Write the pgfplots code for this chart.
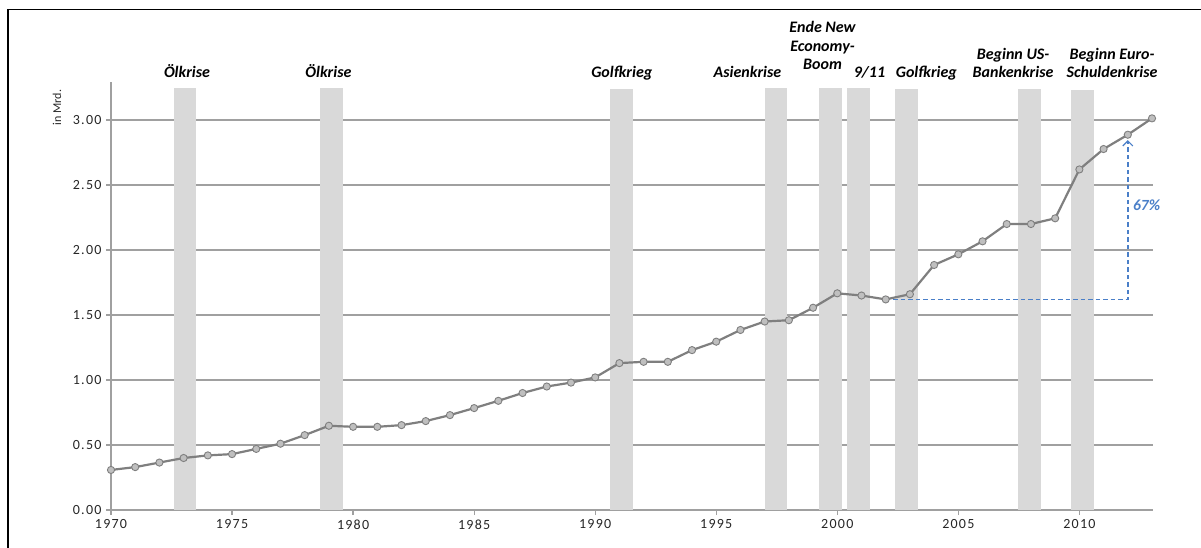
\documentclass[border=0pt]{standalone}
\usepackage{pgfplots}
\pgfplotsset{compat=1.18}
\usepackage{fontspec}
\setmainfont{Carlito}
\newfontfamily\tickfont[LetterSpace=9]{Carlito}
\usetikzlibrary{arrows.meta}
\definecolor{barc}{HTML}{D9D9D9}
\definecolor{linec}{HTML}{7F7F7F}
\definecolor{markc}{HTML}{BFBFBF}
\definecolor{gridc}{HTML}{A0A0A0}
\definecolor{bluec}{HTML}{4A7FC8}
\definecolor{txtc}{HTML}{262626}
\newcommand{\annfont}{\fontsize{16bp}{19bp}\selectfont\bfseries\itshape}
\newcommand{\tkfont}{\tickfont\fontsize{14bp}{16bp}\selectfont}
\begin{document}
\begin{tikzpicture}
\useasboundingbox (0,0) rectangle (1201bp,548bp);
\begin{axis}[
 at={(111bp,38bp)}, anchor=south west, scale only axis,
 width=1041.7bp, height=428.3bp,
 xmin=1970, xmax=2013.03, ymin=0, ymax=3.295,
 axis x line*=bottom, axis y line*=left,
 axis line style={gridc, line width=1.3bp},
 xtick={1970,1975,1980,1985,1990,1995,2000,2005,2010},
 xticklabels={{\tkfont 1970},{\tkfont 1975},{\tkfont 1980},{\tkfont 1985},{\tkfont 1990},{\tkfont 1995},{\tkfont 2000},{\tkfont 2005},{\tkfont 2010}},
 ytick={0,0.5,1,1.5,2,2.5,3},
 yticklabels={{\tkfont 0.00},{\tkfont 0.50},{\tkfont 1.00},{\tkfont 1.50},{\tkfont 2.00},{\tkfont 2.50},{\tkfont 3.00}},
 ymajorgrids, grid style={gridc, line width=1.2bp},
 tick align=outside,
 major tick length=5bp,
 tick style={gridc, line width=1.2bp},
 xticklabel style={yshift=-1bp},
 yticklabel style={xshift=-1bp},
 tick label style={text=txtc},
 clip=false,
]
\addplot[draw=none, fill=barc] coordinates {(1972.6,0) (1972.6,3.246) (1973.5,3.246) (1973.5,0)} -- cycle;
\addplot[draw=none, fill=barc] coordinates {(1978.65,0) (1978.65,3.246) (1979.57,3.246) (1979.57,0)} -- cycle;
\addplot[draw=none, fill=barc] coordinates {(1990.6,0) (1990.6,3.236) (1991.55,3.236) (1991.55,0)} -- cycle;
\addplot[draw=none, fill=barc] coordinates {(1997.0,0) (1997.0,3.246) (1997.93,3.246) (1997.93,0)} -- cycle;
\addplot[draw=none, fill=barc] coordinates {(1999.26,0) (1999.26,3.246) (2000.18,3.246) (2000.18,0)} -- cycle;
\addplot[draw=none, fill=barc] coordinates {(2000.4,0) (2000.4,3.246) (2001.35,3.246) (2001.35,0)} -- cycle;
\addplot[draw=none, fill=barc] coordinates {(2002.37,0) (2002.37,3.238) (2003.33,3.238) (2003.33,0)} -- cycle;
\addplot[draw=none, fill=barc] coordinates {(2007.46,0) (2007.46,3.236) (2008.41,3.236) (2008.41,0)} -- cycle;
\addplot[draw=none, fill=barc] coordinates {(2009.64,0) (2009.64,3.23) (2010.6,3.23) (2010.6,0)} -- cycle;

\addplot[draw=bluec, color=bluec, line width=1.4bp, dash pattern=on 4.5bp off 3bp, -{Straight Barb[length=5bp, width=10bp, line width=1.1bp]}] coordinates {(2002,1.62) (2012,1.62) (2012,2.845)};

\addplot[linec, line width=2.2bp, mark=*, mark size=3.6bp, mark options={fill=markc, draw=linec, line width=0.9bp, solid}] coordinates {
(1970,0.308) (1971,0.33) (1972,0.365) (1973,0.40) (1974,0.42) (1975,0.43)
(1976,0.47) (1977,0.51) (1978,0.576) (1979,0.648) (1980,0.64) (1981,0.64)
(1982,0.653) (1983,0.684) (1984,0.73) (1985,0.784) (1986,0.84) (1987,0.90)
(1988,0.95) (1989,0.98) (1990,1.02) (1991,1.13) (1992,1.14) (1993,1.14)
(1994,1.23) (1995,1.295) (1996,1.385) (1997,1.45) (1998,1.46) (1999,1.556)
(2000,1.667) (2001,1.65) (2002,1.62) (2003,1.66) (2004,1.885) (2005,1.967)
(2006,2.067) (2007,2.20) (2008,2.20) (2009,2.244) (2010,2.62) (2011,2.777)
(2012,2.887) (2013,3.013)};

\node[anchor=base, font=\annfont] at (axis cs:1973.14,3.327) {Ölkrise};
\node[anchor=base, font=\annfont] at (axis cs:1978.98,3.327) {Ölkrise};
\node[anchor=base, font=\annfont] at (axis cs:1991.1,3.327) {Golfkrieg};
\node[anchor=base, font=\annfont] at (axis cs:1996.29,3.327) {Asienkrise};
\node[anchor=base, font=\annfont] at (axis cs:1999.39,3.675) {Ende New};
\node[anchor=base, font=\annfont] at (axis cs:1999.39,3.525) {Economy-};
\node[anchor=base, font=\annfont] at (axis cs:1999.39,3.385) {Boom};
\node[anchor=base, font=\annfont] at (axis cs:2001.33,3.327) {9/11};
\node[anchor=base, font=\annfont] at (axis cs:2003.68,3.327) {Golfkrieg};
\node[anchor=base, font=\annfont] at (axis cs:2007.26,3.469) {Beginn US-};
\node[anchor=base, font=\annfont] at (axis cs:2007.26,3.327) {Bankenkrise};
\node[anchor=base, font=\annfont] at (axis cs:2011.35,3.469) {Beginn Euro-};
\node[anchor=base, font=\annfont] at (axis cs:2011.35,3.327) {Schuldenkrise};
\node[anchor=base west, inner sep=0pt, font=\fontsize{15.5bp}{18bp}\selectfont\bfseries\itshape, text=bluec] at (axis cs:2012.21,2.302) {67\%};
\node[rotate=90, font=\fontsize{12bp}{14bp}\selectfont, text=txtc] at (axis cs:1967.77,3.096) {in Mrd.};
\end{axis}
\draw[black, line width=1.6bp] (8bp,0) -- (8bp,538bp);
\draw[black, line width=1bp] (7.2bp,538bp) -- (1201bp,538bp);
\end{tikzpicture}
\end{document}
